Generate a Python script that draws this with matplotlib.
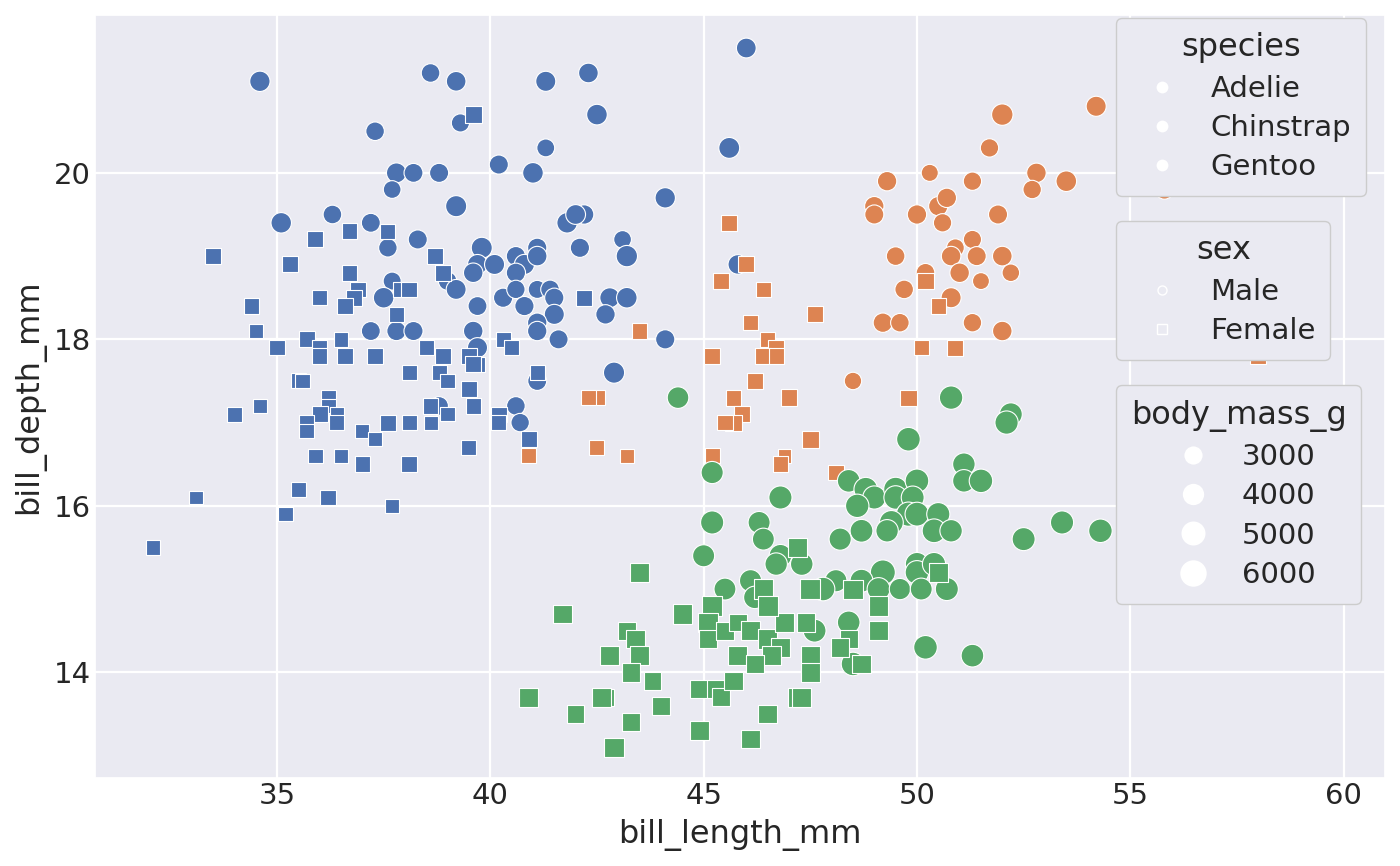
import numpy as np
import matplotlib
matplotlib.use("Agg")
import matplotlib.pyplot as plt
import seaborn as sns
from matplotlib.lines import Line2D

# values (bill length, bill depth, body mass)
adelie_male_x = [34.6, 38.6, 39.2, 39.3, 37.3, 37.8, 38.2, 38.8, 37.7, 39.2, 35.1, 36.3, 37.2, 37.6, 38.3,
                 39.8, 39.7, 39.6, 39.0, 39.2, 37.7, 37.5, 37.2, 37.8, 38.2, 39.7, 39.6, 39.7, 38.8, 40.1,
                 40.6, 40.8, 40.6, 41.1, 41.1, 41.8, 42.2, 42.0, 42.1, 40.3, 40.6, 40.8, 41.1, 41.4, 41.5,
                 41.5, 41.1, 41.1, 41.6, 41.1, 40.6, 40.7, 41.3, 42.3, 42.5, 41.3, 45.6, 46.0, 40.2, 41.0,
                 44.1, 43.1, 43.2, 42.8, 43.2, 42.7, 44.1, 42.9, 45.8]
adelie_male_y = [21.1, 21.2, 21.1, 20.6, 20.5, 20.0, 20.0, 20.0, 19.8, 19.6, 19.4, 19.5, 19.4, 19.1, 19.2,
                 19.1, 18.9, 18.8, 18.7, 18.6, 18.7, 18.5, 18.1, 18.1, 18.1, 18.4, 18.1, 17.9, 17.2, 18.9,
                 19.0, 18.9, 18.8, 19.1, 19.0, 19.4, 19.5, 19.5, 19.1, 18.5, 18.6, 18.4, 18.6, 18.6, 18.5,
                 18.3, 18.2, 18.1, 18.0, 17.5, 17.2, 17.0, 21.1, 21.2, 20.7, 20.3, 20.3, 21.5, 20.1, 20.0,
                 19.7, 19.2, 19.0, 18.5, 18.5, 18.3, 18.0, 17.6, 18.9]
adelie_male_mass = [4400, 3800, 4150, 3650, 3775, 4250, 3900, 3950, 3500, 4675, 4450, 3800, 3900, 3750, 3950,
                    4650, 4250, 4100, 3800, 4250, 3600, 4475, 3900, 4000, 3950, 3900, 4100, 4300, 3800, 4300,
                    4000, 4300, 4000, 4000, 4100, 4450, 4050, 4200, 4000, 4000, 3700, 4000, 3600, 3800, 4000,
                    4300, 4050, 4050, 3950, 3900, 3800, 3725, 4300, 4150, 4500, 3550, 4600, 4200, 3950, 4500,
                    4400, 3500, 4775, 4250, 4475, 4075, 4000, 4700, 4100]

adelie_female_x = [39.6, 37.6, 33.5, 35.9, 36.7, 35.3, 36.7, 38.7, 38.9, 37.9, 38.1, 36.9, 36.8, 36.0, 36.6,
                   34.4, 34.5, 35.0, 37.8, 35.7, 36.0, 36.0, 36.5, 36.6, 37.3, 38.5, 38.9, 39.5, 39.7, 38.1,
                   38.8, 39.0, 39.5, 35.5, 35.6, 36.2, 36.2, 36.0, 36.4, 35.7, 35.7, 36.4, 34.6, 34.0, 37.0,
                   37.3, 37.6, 38.1, 38.6, 38.6, 39.0, 39.6, 39.5, 35.9, 36.5, 37.0, 38.1, 35.5, 36.2, 33.1,
                   35.2, 37.7, 32.1, 42.2, 40.3, 40.5, 39.6, 41.1, 40.2, 40.2, 40.9]
adelie_female_y = [20.7, 19.3, 19.0, 19.2, 19.3, 18.9, 18.8, 19.0, 18.8, 18.6, 18.6, 18.6, 18.5, 18.5, 18.4,
                   18.4, 18.1, 17.9, 18.3, 18.0, 17.9, 17.8, 18.0, 17.8, 17.8, 17.9, 17.8, 17.8, 17.7, 17.6,
                   17.6, 17.5, 17.4, 17.5, 17.5, 17.3, 17.2, 17.1, 17.1, 17.0, 16.9, 17.0, 17.2, 17.1, 16.9,
                   16.8, 17.0, 17.0, 17.2, 17.0, 17.1, 17.2, 16.7, 16.6, 16.6, 16.5, 16.5, 16.2, 16.1, 16.1,
                   15.9, 16.0, 15.5, 18.5, 18.0, 17.9, 17.7, 17.6, 17.1, 17.0, 16.8]
adelie_female_mass = [3900, 3300, 3600, 3600, 3450, 3600, 3600, 3525, 3600, 3150, 3425, 3500, 3500, 3250, 3600,
                      3325, 2900, 3450, 3400, 3550, 3050, 3300, 3150, 3550, 3350, 3325, 3575, 3300, 3200, 3300,
                      3275, 3100, 3600, 3250, 3150, 3300, 3150, 3550, 2900, 3350, 3150, 3300, 3100, 3300, 3000,
                      3050, 3600, 3200, 3500, 2900, 3050, 3350, 3250, 3050, 2850, 3400, 3600, 3350, 3550, 2900,
                      3050, 3075, 3050, 3550, 3250, 3200, 3500, 3200, 3400, 3300, 3700]

chinstrap_male_x = [54.2, 52.0, 51.7, 50.3, 52.8, 49.3, 51.3, 53.5, 52.7, 49.0, 49.0, 50.0, 50.5, 50.7, 50.6,
                    51.9, 51.3, 50.9, 50.8, 51.4, 52.0, 49.5, 50.2, 51.0, 52.2, 51.5, 49.7, 50.8, 49.2, 49.6,
                    51.3, 52.0, 48.5, 55.8]
chinstrap_male_y = [20.8, 20.7, 20.3, 20.0, 20.0, 19.9, 19.9, 19.9, 19.8, 19.6, 19.5, 19.5, 19.6, 19.7, 19.4,
                    19.5, 19.2, 19.1, 19.0, 19.0, 19.0, 19.0, 18.8, 18.8, 18.8, 18.7, 18.6, 18.5, 18.2, 18.2,
                    18.2, 18.1, 17.5, 19.8]
chinstrap_male_mass = [4300, 4800, 3700, 3300, 4100, 4050, 3700, 4500, 3725, 4050, 3950, 4050, 4050, 4050, 3700,
                       3950, 3650, 3550, 4100, 3950, 4150, 3800, 3800, 4100, 3450, 3250, 3775, 4300, 4050, 3775,
                       3750, 4100, 3400, 4000]

chinstrap_female_x = [43.5, 45.6, 46.0, 45.4, 46.4, 46.1, 47.6, 45.2, 46.5, 46.7, 46.4, 46.7, 46.2, 45.7, 47.0,
                      45.9, 45.7, 45.5, 47.5, 45.2, 46.9, 46.8, 48.1, 42.5, 42.3, 42.5, 43.2, 40.9, 49.8, 50.2,
                      50.5, 50.1, 50.9, 58.0]
chinstrap_female_y = [18.1, 19.4, 18.9, 18.7, 18.6, 18.2, 18.3, 17.8, 18.0, 17.9, 17.8, 17.8, 17.5, 17.3, 17.3,
                      17.1, 17.0, 17.0, 16.8, 16.6, 16.6, 16.5, 16.4, 17.3, 17.3, 16.7, 16.6, 16.6, 17.3, 18.7,
                      18.4, 17.9, 17.9, 17.8]
chinstrap_female_mass = [3400, 3525, 3650, 3525, 3450, 3250, 3600, 3650, 3300, 3500, 3700, 3300, 3500, 3600, 3700,
                         3575, 3650, 3400, 3900, 3250, 2700, 3500, 3325, 3350, 3350, 3250, 2900, 3200, 3675, 3775,
                         3400, 3400, 3675, 3700]

gentoo_male_x = [44.4, 45.2, 46.8, 45.2, 46.3, 46.4, 45.0, 46.8, 46.7, 47.3, 46.1, 45.5, 46.2, 47.6, 50.8,
                 52.2, 52.1, 49.8, 51.1, 51.1, 51.5, 48.4, 48.8, 49.0, 48.6, 49.5, 49.5, 50.0, 49.9, 49.8,
                 50.0, 50.5, 49.4, 49.3, 48.7, 48.2, 50.4, 50.8, 52.5, 53.4, 54.3, 50.0, 50.0, 50.4, 49.2,
                 48.7, 48.1, 47.8, 49.1, 49.6, 50.1, 50.7, 48.4, 48.5, 50.2, 51.3]
gentoo_male_y = [17.3, 16.4, 16.1, 15.8, 15.8, 15.6, 15.4, 15.4, 15.3, 15.3, 15.1, 15.0, 14.9, 14.5, 17.3,
                 17.1, 17.0, 16.8, 16.5, 16.3, 16.3, 16.3, 16.2, 16.1, 16.0, 16.2, 16.1, 16.3, 16.1, 15.9,
                 15.9, 15.9, 15.8, 15.7, 15.7, 15.6, 15.7, 15.7, 15.6, 15.8, 15.7, 15.3, 15.2, 15.3, 15.2,
                 15.1, 15.1, 15.0, 15.0, 15.0, 15.0, 15.0, 14.6, 14.1, 14.3, 14.2]
gentoo_male_mass = [4875, 5100, 5500, 5500, 5050, 5000, 5050, 5300, 5200, 5250, 5100, 5000, 5200, 5400, 5600,
                    5400, 5550, 5700, 5250, 5250, 5650, 5300, 5700, 5500, 5600, 5800, 5650, 5700, 5400, 5950,
                    5800, 5500, 5800, 5200, 5350, 5100, 5750, 5200, 5450, 5500, 5650, 5550, 5700, 5550, 6300,
                    5400, 5100, 5650, 5400, 4750, 5000, 5450, 5300, 5650, 5700, 5300]

gentoo_female_x = [43.5, 41.7, 44.5, 45.2, 45.1, 45.1, 45.5, 45.8, 46.1, 46.5, 46.9, 47.4, 46.8, 46.6, 45.8,
                   46.2, 47.5, 47.5, 43.2, 43.4, 43.5, 42.8, 43.3, 43.8, 40.9, 42.7, 42.6, 42.0, 44.0, 43.3,
                   42.9, 44.9, 45.3, 45.4, 45.7, 44.9, 46.5, 47.2, 46.1, 46.4, 46.5, 47.5, 47.2, 48.5, 49.1,
                   49.1, 48.4, 48.2, 48.7, 47.3, 50.5]
gentoo_female_y = [15.2, 14.7, 14.7, 14.8, 14.6, 14.4, 14.5, 14.6, 14.5, 14.4, 14.6, 14.6, 14.3, 14.2, 14.2,
                   14.1, 14.2, 14.0, 14.5, 14.4, 14.2, 14.2, 14.0, 13.9, 13.7, 13.7, 13.7, 13.5, 13.6, 13.4,
                   13.1, 13.8, 13.8, 13.7, 13.9, 13.3, 13.5, 13.7, 13.2, 15.0, 14.8, 15.0, 15.5, 15.0, 14.8,
                   14.5, 14.4, 14.3, 14.1, 13.7, 15.2]
gentoo_female_mass = [4800, 4700, 4850, 5200, 5000, 4700, 4400, 4200, 4700, 4900, 4875, 4725, 4850, 4750, 4700,
                      4375, 4600, 4875, 4450, 4600, 4700, 4700, 4575, 4300, 4650, 3950, 4950, 4150, 4350, 4400,
                      5000, 4750, 4550, 4400, 4400, 5100, 4550, 4925, 4500, 4975, 5200, 5100, 4975, 4850, 5150,
                      4625, 4400, 4600, 4450, 4725, 5000]

species = ["Adelie", "Chinstrap", "Gentoo"]
sexes = ["Male", "Female"]
mass_ticks = [3000, 4000, 5000, 6000]

sns.set_theme(style="darkgrid")
plt.rcParams['font.family'] = ['DejaVu Sans']
colors = sns.color_palette("deep")

all_mass = np.array(adelie_male_mass + adelie_female_mass + chinstrap_male_mass + chinstrap_female_mass
                    + gentoo_male_mass + gentoo_female_mass)
m_lo, m_hi = all_mass.min(), all_mass.max()
s_lo, s_hi = 117, 324


def mass_to_area(m):
    # linear size mapping, like seaborn's size semantic
    m = np.asarray(m, dtype=float)
    return s_lo + (m - m_lo) / (m_hi - m_lo) * (s_hi - s_lo)


fig = plt.figure(figsize=(14, 8.66), dpi=100)
ax = fig.add_axes([0.068, 0.1016, 0.921, 0.8814])

groups = [
    (0, "o", adelie_male_x, adelie_male_y, adelie_male_mass),
    (0, "s", adelie_female_x, adelie_female_y, adelie_female_mass),
    (1, "o", chinstrap_male_x, chinstrap_male_y, chinstrap_male_mass),
    (1, "s", chinstrap_female_x, chinstrap_female_y, chinstrap_female_mass),
    (2, "o", gentoo_male_x, gentoo_male_y, gentoo_male_mass),
    (2, "s", gentoo_female_x, gentoo_female_y, gentoo_female_mass),
]
for ci, mk, xs, ys, ms in groups:
    area = mass_to_area(ms)
    if mk == "s":
        area = area * np.pi / 4
    ax.scatter(xs, ys, s=area, marker=mk, color=colors[ci], edgecolor="white", linewidth=0.8, zorder=3)

ax.set_xlim(30.74, 60.96)
ax.set_ylim(12.73, 21.90)
ax.set_xticks([35, 40, 45, 50, 55, 60])
ax.set_yticks([14, 16, 18, 20])
ax.tick_params(labelsize=21, length=0, pad=3)
ax.grid(color="white", linewidth=1.6)
ax.set_xlabel("bill_length_mm", fontsize=23, labelpad=6)
ax.set_ylabel("bill_depth_mm", fontsize=23, labelpad=6)

leg_kw = dict(loc="upper left", fontsize=21, title_fontsize=23, borderaxespad=0,
              facecolor="#EAEAF2", edgecolor="0.8", framealpha=1, handlelength=2.1,
              handletextpad=0.62, labelspacing=0.39, borderpad=0.5)

sp_handles = [Line2D([], [], ls="", marker="o", markersize=7, color="white", markeredgecolor="white",
                     markeredgewidth=1.5) for _ in species]
leg1 = ax.legend(sp_handles, species, title="species", bbox_to_anchor=(0.792, 0.996), **leg_kw)
leg1.set_zorder(10)
ax.add_artist(leg1)

sex_handles = [Line2D([], [], ls="", marker=m, markersize=6.5, markerfacecolor="none",
                      markeredgecolor="white", markeredgewidth=1) for m in ["o", "s"]]
leg2 = ax.legend(sex_handles, sexes, title="sex", bbox_to_anchor=(0.792, 0.730), **leg_kw)
leg2.set_zorder(10)
ax.add_artist(leg2)

size_handles = [Line2D([], [], ls="", marker="o", markersize=np.sqrt(mass_to_area(v)),
                       color="white", markeredgecolor="white", markeredgewidth=1.5) for v in mass_ticks]
leg3 = ax.legend(size_handles, [str(v) for v in mass_ticks], title="body_mass_g",
                 bbox_to_anchor=(0.792, 0.515), **leg_kw)
leg3.set_zorder(10)

fig.savefig("out.png", dpi=100)
